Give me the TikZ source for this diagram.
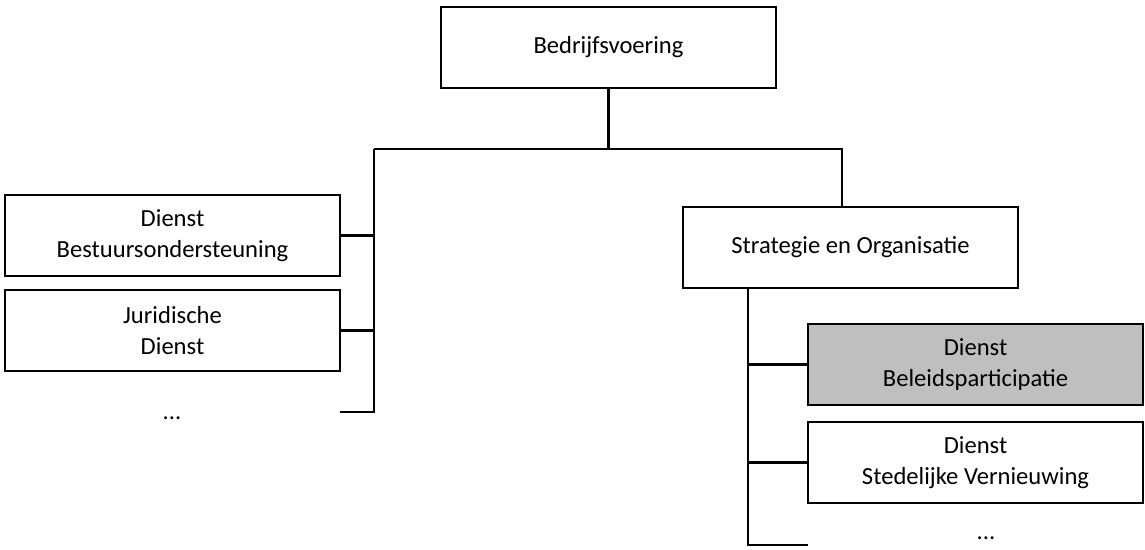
\documentclass[tikz,border=0pt]{standalone}
\usepackage{fontspec}
\setmainfont{Carlito}
\usepackage{xcolor}
\usepackage{tikz}
\usetikzlibrary{positioning, calc}
\definecolor{myline}{HTML}{000000}
\definecolor{mygrayfill}{HTML}{BFBFBF}
\tikzset{
unit/.style={
draw=myline,
fill=white,
line width=1.2pt,
minimum height=1.62cm,
minimum width=6.7cm,
font=\fontsize{14}{18}\selectfont,
align=center,
inner sep=2pt
},
unitHigh/.style={
unit,
fill=mygrayfill
},
more/.style={
font=\fontsize{14}{18}\selectfont
},
link/.style={
line width=1.2pt,
draw=myline
}
}

\begin{document}
\begin{tikzpicture}[x=0.02cm, y=-0.02cm]

\useasboundingbox (0,0) rectangle (1145,550);

\node[unit] (top) at (608.5,47.5) {Bedrijfsvoering};
\node[unit] (bestuur) at (172.5,235.5) {Dienst\\Bestuursondersteuning};
\node[unit] (juri) at (172.5,330.5) {Juridische\\Dienst};
\node[unit] (strat) at (850.5,247.5) {Strategie en Organisatie};
\node[unitHigh] (beleid) at (975.5,364.5) {Dienst\\Beleidsparticipatie};
\node[unit] (stede) at (975.5,462.5) {Dienst\\Stedelijke Vernieuwing};

\node[more] (dotsL) at (172,418) {...};
\node[more] (dotsR) at (986,538) {...};

\coordinate (lspine) at (374,149);
\coordinate (rspine) at (842,149);
\coordinate (lend) at (374,412);
\coordinate (lstub) at (340,412);
\coordinate (rtop) at (748,288);
\coordinate (rend) at (748,545);
\coordinate (rstub) at (808,545);

% top level
\draw[link] (top.south) -- (top.south |- lspine);
\draw[link] (lspine) -- (rspine) -- (rspine |- strat.north);

% left branch
\draw[link] (lspine) -- (lend) -- (lstub);
\draw[link] (bestuur.east) -- (bestuur.east -| lspine);
\draw[link] (juri.east) -- (juri.east -| lspine);

% right branch
\draw[link] (rtop) -- (rend) -- (rstub);
\draw[link] (beleid.west) -- (beleid.west -| rtop);
\draw[link] (stede.west) -- (stede.west -| rtop);

\end{tikzpicture}
\end{document}
